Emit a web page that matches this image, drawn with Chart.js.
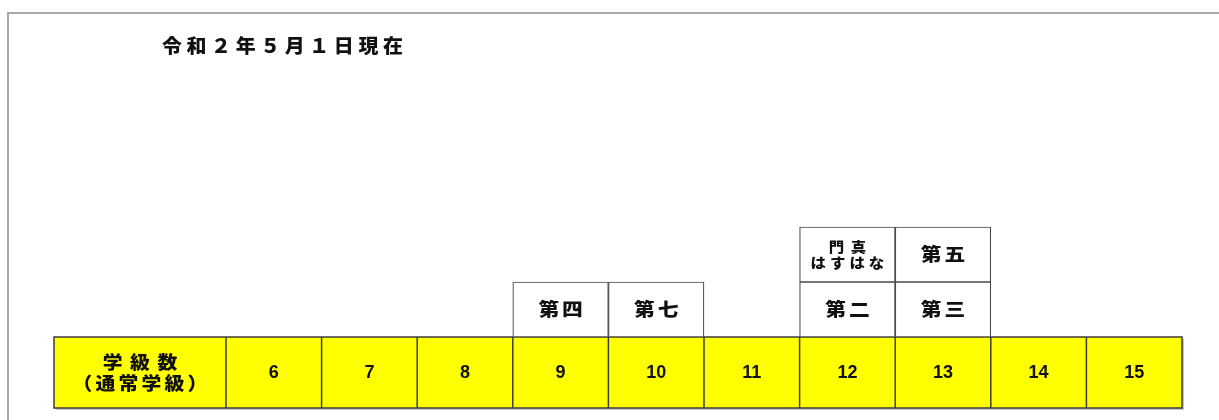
<!DOCTYPE html>
<html><head><meta charset="utf-8">
<script src="https://cdn.jsdelivr.net/npm/chart.js@4.4.1/dist/chart.umd.min.js"></script>
<style>html,body{margin:0;padding:0;background:#fff;} canvas{display:block}</style>
</head><body>
<canvas id="c" width="1219" height="420"></canvas>
<script>
const titleText = '令和２年５月１日現在';
const headerLines = ['学級数', '（通常学級）'];
const categories = ['6', '7', '8', '9', '10', '11', '12', '13', '14', '15'];
const tier1Names = ['', '', '', '第四', '第七', '', '第二', '第三', '', ''];
const tier2Names = ['', '', '', '', '', '', '門真\nはすはな', '第五', '', ''];
const tier1Counts = [null, null, null, 1, 1, null, 1, 1, null, null];
const tier2Counts = [null, null, null, null, null, null, 1, 1, null, null];

const JP = '"Noto Sans CJK JP", "Noto Sans CJK SC", sans-serif';

// draws text char by char with extra spacing and horizontal stretch
function drawSpaced(ctx, text, x, cy, spacing, hs, align) {
  const chars = Array.from(text);
  const widths = chars.map(c => ctx.measureText(c).width * hs);
  const total = widths.reduce((a, b) => a + b, 0) + spacing * (chars.length - 1);
  let cx = align === 'left' ? x : x - total / 2;
  ctx.textAlign = 'left';
  ctx.textBaseline = 'middle';
  chars.forEach((c, i) => {
    ctx.save();
    ctx.translate(cx, cy);
    ctx.scale(hs, 1);
    ctx.fillText(c, 0, 0);
    ctx.restore();
    cx += widths[i] + spacing;
  });
}

const tablePlugin = {
  id: 'tablePlugin',
  beforeDraw(chart) {
    const ctx = chart.ctx;
    const xs = chart.scales.x, ys = chart.scales.y;
    ctx.save();
    // outer frame
    ctx.strokeStyle = '#a8a8a8';
    ctx.lineWidth = 2;
    ctx.beginPath();
    ctx.moveTo(8, 425); ctx.lineTo(8, 13); ctx.lineTo(1225, 13);
    ctx.stroke();
    // yellow row
    const x0 = ys.left, x1 = xs.right, y0 = xs.top, y1 = xs.bottom;
    ctx.fillStyle = '#c4c4c4';
    ctx.fillRect(x0 + 2, y0 + 2, x1 - x0, y1 - y0);
    ctx.fillStyle = '#ffff00';
    ctx.fillRect(x0, y0, x1 - x0, y1 - y0);
    ctx.strokeStyle = '#3c3c3c';
    ctx.lineWidth = 1.5;
    ctx.strokeRect(x0, y0, x1 - x0, y1 - y0);
    ctx.beginPath();
    ctx.moveTo(xs.left, y0); ctx.lineTo(xs.left, y1);
    for (let i = 1; i < categories.length; i++) {
      const bx = (xs.getPixelForValue(i - 1) + xs.getPixelForValue(i)) / 2;
      ctx.moveTo(bx, y0); ctx.lineTo(bx, y1);
    }
    ctx.stroke();
    // header cell text
    ctx.fillStyle = '#111';
    ctx.font = '900 18px ' + JP;
    const hx = (x0 + xs.left) / 2;
    const hm = (y0 + y1) / 2;
    drawSpaced(ctx, headerLines[0], hx, hm - 10, 7.5, 1.1);
    drawSpaced(ctx, headerLines[1], hx, hm + 11, 3.2, 1.1);
    // title
    ctx.font = '900 19px ' + JP;
    drawSpaced(ctx, titleText, 162, 46, 4.6, 1.05, 'left');
    ctx.restore();
  },
  afterDatasetsDraw(chart) {
    const ctx = chart.ctx;
    const names = [tier1Names, tier2Names];
    ctx.save();
    ctx.fillStyle = '#111';
    chart.data.datasets.forEach((ds, di) => {
      const meta = chart.getDatasetMeta(di);
      meta.data.forEach((el, i) => {
        const label = names[di][i];
        if (!label || ds.data[i] == null) return;
        const p = el.getProps(['x', 'y', 'base'], true);
        const cy = (p.y + p.base) / 2;
        const lines = label.split('\n');
        if (lines.length === 1) {
          ctx.font = '900 18px ' + JP;
          drawSpaced(ctx, lines[0], p.x, cy, 3, 1.15);
        } else {
          ctx.font = '900 14px ' + JP;
          drawSpaced(ctx, lines[0], p.x, cy - 8, 6.5, 1.1);
          drawSpaced(ctx, lines[1], p.x, cy + 8, 4, 1.1);
        }
      });
    });
    ctx.restore();
  }
};

const barStyle = {
  backgroundColor: '#ffffff',
  borderColor: '#4a4a4a',
  borderWidth: 1.2,
  borderSkipped: false,
  barPercentage: 1,
  categoryPercentage: 1
};

new Chart(document.getElementById('c'), {
  type: 'bar',
  data: {
    labels: categories,
    datasets: [
      Object.assign({ label: '1', data: tier1Counts }, barStyle),
      Object.assign({ label: '2', data: tier2Counts }, barStyle)
    ]
  },
  options: {
    responsive: false,
    animation: false,
    devicePixelRatio: 1,
    layout: { padding: { left: 54, right: 37, top: 62, bottom: 12 } },
    plugins: { legend: { display: false }, tooltip: { enabled: false }, title: { display: false } },
    scales: {
      x: {
        stacked: true,
        grid: { display: false, drawTicks: false },
        border: { display: false },
        ticks: { color: '#111', font: { family: '"Liberation Sans", Arial, sans-serif', size: 18, weight: 'bold' }, padding: 25, maxRotation: 0, autoSkip: false },
        afterFit(s) { s.height = 71; }
      },
      y: {
        stacked: true,
        min: 0,
        max: 5,
        grid: { display: false, drawTicks: false },
        border: { display: false },
        ticks: { display: false },
        afterFit(s) { s.width = 172; }
      }
    }
  },
  plugins: [tablePlugin]
});
</script>
</body></html>
